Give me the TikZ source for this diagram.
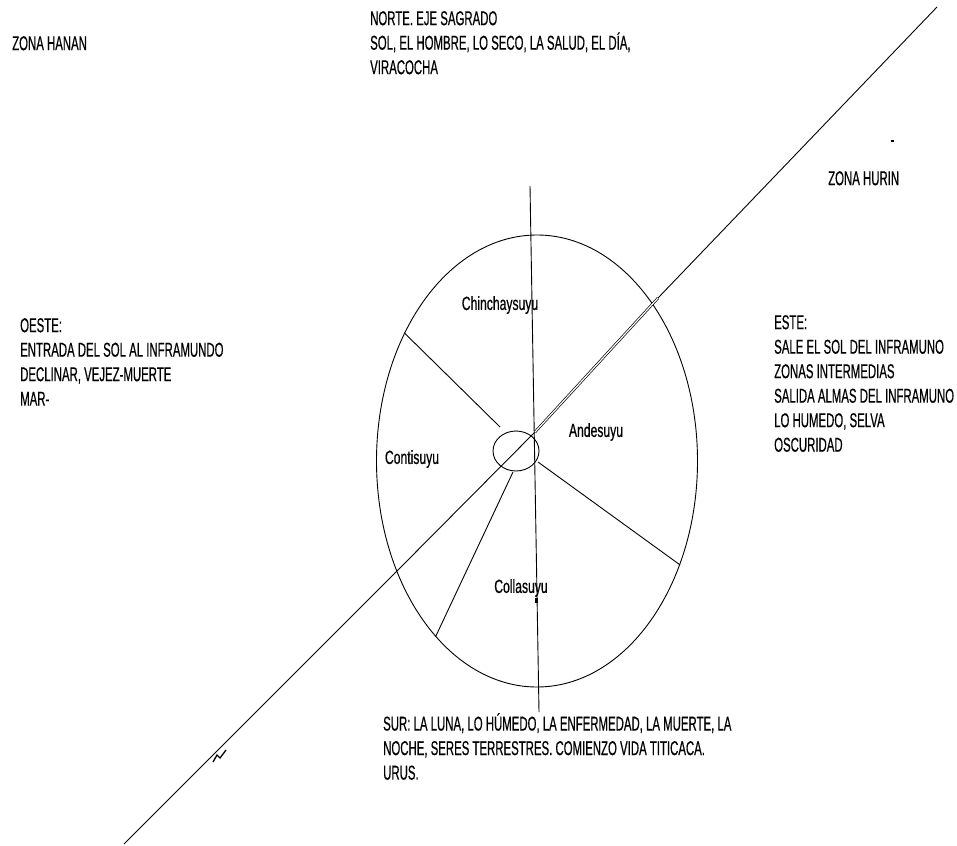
\documentclass[tikz,border=0pt]{standalone}
\usepackage{fontspec}
\setmainfont{Liberation Sans}[FakeStretch=0.57,FakeBold=0.5]
\newfontfamily\suyufont{Liberation Sans}[FakeStretch=0.64,FakeBold=0.5]
\usetikzlibrary{shapes.geometric}
\begin{document}
\begin{tikzpicture}[x=1pt,y=-1pt,
  ln/.style={line width=0.9pt,black},
  lbl/.style={inner sep=0pt,font={\fontsize{20}{24.5}\selectfont},align=left,anchor=north west},
  suyu/.style={inner sep=0pt,font={\suyufont\fontsize{19}{24.5}\selectfont}}]
\useasboundingbox[fill=white] (0,0) rectangle (957,845);

% main ellipse and centre circle
\node[ellipse,draw,ln,minimum width=321pt,minimum height=452pt,inner sep=0pt] (E) at (537,461) {};
\node[ellipse,draw,ln,minimum width=46pt,minimum height=40pt,inner sep=0pt] (c) at (516,451) {};

% axes
\coordinate (vtop) at (530,186);
\coordinate (vbot) at (539,712);
\draw[ln] (vtop) -- (vbot);
\coordinate (dtop) at (937,7);
\coordinate (dbot) at (124,844);
\coordinate (d0) at (398,570);
\coordinate (d1) at (535,432);
\coordinate (d2) at (658,298);
\draw[ln] (dbot) -- (d0) -- (d1) -- (d2) -- (dtop);
\draw[line width=0.7pt,double=white,double distance=1.2pt] (d1) -- (d2);

% spokes
\coordinate (s1) at (500,427);
\coordinate (s2) at (538,462);
\coordinate (s3) at (513,472);
\draw[ln] (s1) -- (E.136.8);
\draw[ln] (s2) -- (E.-36);
\draw[ln] (s3) -- (E.-120);

% small marks
\fill (535,598) rectangle (538,603);
\fill (891,140) rectangle (894,142);
\draw[line width=1.3pt] (213,762) -- (217,755) -- (220,758) -- (226,750);

% suyu labels
\node[suyu] (chin) at (500,305) {Chinchaysuyu};
\node[suyu] (ande) at (596,432) {Andesuyu};
\node[suyu] (cont) at (412,459) {Contisuyu};
\node[suyu] (coll) at (521,588) {Collasuyu};

% outer texts
\node[lbl] (hanan) at (12,36) {ZONA HANAN};
\node[lbl] (norte) at (370,11) {NORTE. EJE SAGRADO\\SOL, EL HOMBRE, LO SECO, LA SALUD, EL DÍA,\\VIRACOCHA};
\node[lbl] (hurin) at (828,171) {ZONA HURIN};
\node[lbl] (oeste) at (20,318) {OESTE:\\ENTRADA DEL SOL AL INFRAMUNDO\\DECLINAR, VEJEZ-MUERTE\\MAR-};
\node[lbl] (este) at (774,315) {ESTE:\\SALE EL SOL DEL INFRAMUNO\\ZONAS INTERMEDIAS\\SALIDA ALMAS DEL INFRAMUNO\\LO HUMEDO, SELVA\\OSCURIDAD};
\node[lbl] (sur) at (383,713) {SUR: LA LUNA, LO HÚMEDO, LA ENFERMEDAD, LA MUERTE, LA\\NOCHE, SERES TERRESTRES. COMIENZO VIDA TITICACA.\\URUS.};
\end{tikzpicture}
\end{document}
